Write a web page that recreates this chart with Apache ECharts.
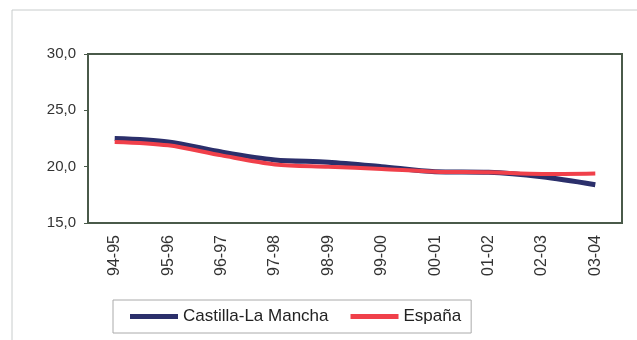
<!DOCTYPE html>
<html><head><meta charset="utf-8">
<script src="https://cdn.jsdelivr.net/npm/echarts@6/dist/echarts.min.js"></script>
<style>html,body{margin:0;padding:0;background:#fff}#c{width:637px;height:340px}</style>
</head><body><div id="c"></div>
<script>
var categories = ['94-95','95-96','96-97','97-98','98-99','99-00','00-01','01-02','02-03','03-04'];
var clm = [22.5, 22.2, 21.3, 20.6, 20.4, 20.0, 19.55, 19.5, 19.1, 18.4];
var espana = [22.2, 21.9, 21.0, 20.2, 20.0, 19.8, 19.55, 19.5, 19.35, 19.4];
var seriesNames = ['Castilla-La Mancha', 'España'];

var chart = echarts.init(document.getElementById('c'), null, {renderer:'canvas'});
var font = 'Liberation Sans, Arial, sans-serif';
chart.setOption({
  animation:false,
  backgroundColor:'#fff',
  graphic:[{type:'rect', shape:{x:12,y:10,width:640,height:340}, style:{fill:'none', stroke:'#c8cccc', lineWidth:1}, z:-1}],
  grid:{left:88,right:15,top:54,bottom:117, show:true, borderColor:'#4a5a4a', borderWidth:2},
  legend:{
    left:113, top:300,
    padding:[8,10,8,17],
    borderColor:'#aaaaaa', borderWidth:1,
    itemWidth:48, itemHeight:5, itemGap:22,
    icon:'rect',
    textStyle:{fontFamily:font, fontSize:17, color:'#222'},
    data:seriesNames
  },
  xAxis:{
    type:'category', data:categories, boundaryGap:true,
    axisLine:{show:true, lineStyle:{color:'#4a5a4a', width:2}},
    axisTick:{show:false},
    axisLabel:{rotate:90, margin:12, fontFamily:font, fontSize:16, color:'#333'}
  },
  yAxis:{
    type:'value', min:15, max:30, interval:5,
    axisLine:{show:true, lineStyle:{color:'#4a5a4a', width:2}},
    axisTick:{show:true, length:4, lineStyle:{color:'#4a5a4a'}},
    splitLine:{show:false},
    axisLabel:{margin:12, fontFamily:font, fontSize:15, color:'#333',
      formatter:function(v){return v.toFixed(1).replace('.', ',');}}
  },
  series:[
    {name:seriesNames[0], type:'line', data:clm, smooth:0.3, symbol:'none',
     lineStyle:{color:'#2b2f6b', width:5}, itemStyle:{color:'#2b2f6b'}},
    {name:seriesNames[1], type:'line', data:espana, smooth:0.3, symbol:'none',
     lineStyle:{color:'#f0404a', width:4}, itemStyle:{color:'#f0404a'}}
  ]
});
</script></body></html>
